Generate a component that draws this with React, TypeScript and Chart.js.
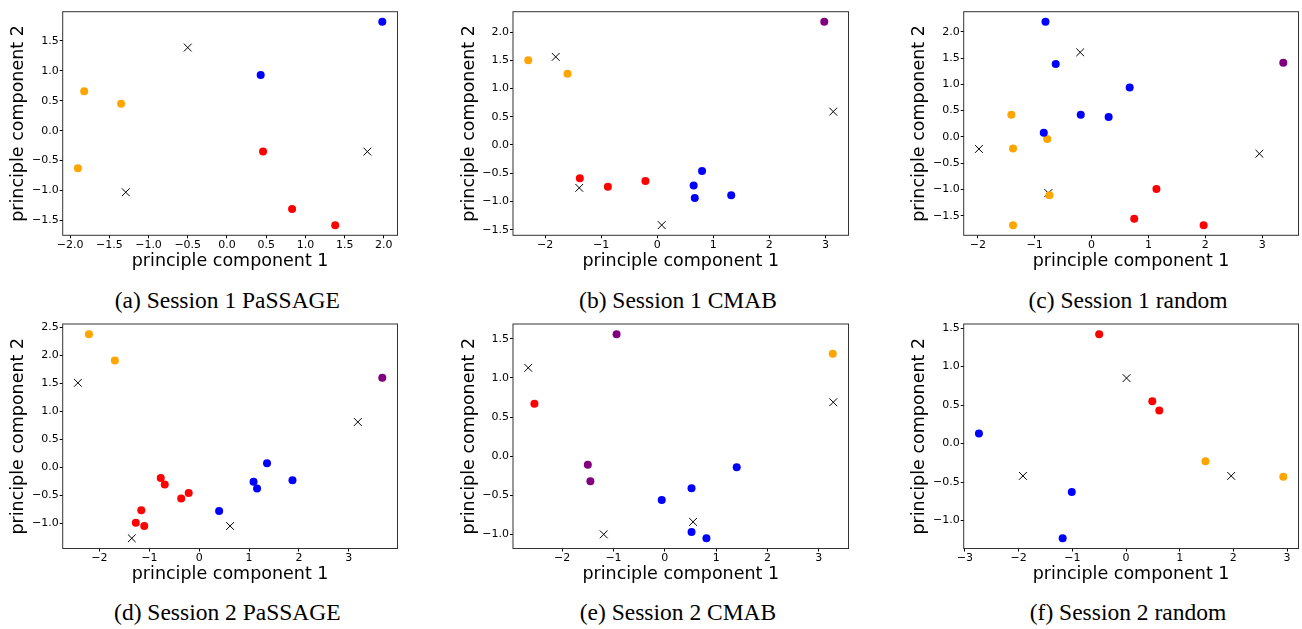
import React, { useEffect, useRef } from "react";
import { Chart, registerables } from "chart.js";

Chart.register(...registerables);

type P = [number, number];

// (a) Session 1 PaSSAGE
const aBlue: P[] = [[1.98, 1.82], [0.43, 0.93]];
const aRed: P[] = [[0.46, -0.35], [0.83, -1.31], [1.38, -1.58]];
const aOrange: P[] = [[-1.82, 0.66], [-1.35, 0.45], [-1.9, -0.63]];
const aPurple: P[] = [];
const aCenters: P[] = [[-0.5, 1.39], [-1.29, -1.03], [1.79, -0.35]];
const aTicksX = ["−2.0", "−1.5", "−1.0", "−0.5", "0.0", "0.5", "1.0", "1.5", "2.0"];
const aTicksY = ["−1.5", "−1.0", "−0.5", "0.0", "0.5", "1.0", "1.5"];

// (b) Session 1 CMAB
const bBlue: P[] = [[0.8, -0.46], [0.65, -0.72], [0.67, -0.94], [1.32, -0.89]];
const bRed: P[] = [[-1.38, -0.59], [-0.88, -0.74], [-0.21, -0.64]];
const bOrange: P[] = [[-2.3, 1.5], [-1.6, 1.26]];
const bPurple: P[] = [[2.98, 2.18]];
const bCenters: P[] = [[-1.81, 1.56], [3.14, 0.59], [-1.39, -0.76], [0.08, -1.42]];
const bTicksX = ["−2", "−1", "0", "1", "2", "3"];
const bTicksY = ["−1.5", "−1.0", "−0.5", "0.0", "0.5", "1.0", "1.5", "2.0"];

// (c) Session 1 random
const cBlue: P[] = [[-0.81, 2.19], [-0.63, 1.39], [0.67, 0.94], [-0.19, 0.42], [0.3, 0.38], [-0.84, 0.08]];
const cRed: P[] = [[1.14, -0.99], [0.75, -1.56], [1.97, -1.68]];
const cOrange: P[] = [[-1.41, 0.42], [-1.38, -0.22], [-0.78, -0.04], [-0.74, -1.11], [-1.38, -1.68]];
const cPurple: P[] = [[3.37, 1.41]];
const cCenters: P[] = [[-0.2, 1.61], [-1.98, -0.23], [2.95, -0.32], [-0.76, -1.07]];
const cTicksX = ["−2", "−1", "0", "1", "2", "3"];
const cTicksY = ["−1.5", "−1.0", "−0.5", "0.0", "0.5", "1.0", "1.5", "2.0"];

// (d) Session 2 PaSSAGE
const dBlue: P[] = [[1.36, 0.07], [1.87, -0.23], [1.09, -0.26], [1.16, -0.38], [0.4, -0.78]];
const dRed: P[] = [[-0.77, -0.19], [-0.69, -0.31], [-0.21, -0.46], [-0.36, -0.56], [-1.16, -0.77], [-1.27, -0.99], [-1.1, -1.05]];
const dOrange: P[] = [[-2.21, 2.38], [-1.69, 1.91]];
const dPurple: P[] = [[3.67, 1.6]];
const dCenters: P[] = [[-2.43, 1.51], [3.18, 0.81], [0.62, -1.05], [-1.35, -1.27]];
const dTicksX = ["−2", "−1", "0", "1", "2", "3"];
const dTicksY = ["−1.0", "−0.5", "0.0", "0.5", "1.0", "1.5", "2.0", "2.5"];

// (e) Session 2 CMAB
const eBlue: P[] = [[1.4, -0.14], [0.52, -0.41], [-0.06, -0.56], [0.52, -0.97], [0.81, -1.05]];
const eRed: P[] = [[-2.54, 0.67]];
const eOrange: P[] = [[3.27, 1.31]];
const ePurple: P[] = [[-0.94, 1.56], [-1.5, -0.11], [-1.45, -0.32]];
const eCenters: P[] = [[-2.66, 1.13], [3.28, 0.69], [0.55, -0.84], [-1.19, -1.0]];
const eTicksX = ["−2", "−1", "0", "1", "2", "3"];
const eTicksY = ["−1.0", "−0.5", "0.0", "0.5", "1.0", "1.5"];

// (f) Session 2 random
const fBlue: P[] = [[-2.74, 0.13], [-1.01, -0.63], [-1.18, -1.23]];
const fRed: P[] = [[-0.5, 1.42], [0.49, 0.55], [0.62, 0.43]];
const fOrange: P[] = [[1.48, -0.23], [2.93, -0.43]];
const fPurple: P[] = [];
const fCenters: P[] = [[0.01, 0.85], [-1.92, -0.42], [1.96, -0.42]];
const fTicksX = ["−3", "−2", "−1", "0", "1", "2", "3"];
const fTicksY = ["−1.0", "−0.5", "0.0", "0.5", "1.0", "1.5"];

const captions = [
  "(a) Session 1 PaSSAGE",
  "(b) Session 1 CMAB",
  "(c) Session 1 random",
  "(d) Session 2 PaSSAGE",
  "(e) Session 2 CMAB",
  "(f) Session 2 random",
];

const panels = [
  { blue: aBlue, red: aRed, orange: aOrange, purple: aPurple, centers: aCenters, tx: aTicksX, ty: aTicksY },
  { blue: bBlue, red: bRed, orange: bOrange, purple: bPurple, centers: bCenters, tx: bTicksX, ty: bTicksY },
  { blue: cBlue, red: cRed, orange: cOrange, purple: cPurple, centers: cCenters, tx: cTicksX, ty: cTicksY },
  { blue: dBlue, red: dRed, orange: dOrange, purple: dPurple, centers: dCenters, tx: dTicksX, ty: dTicksY },
  { blue: eBlue, red: eRed, orange: eOrange, purple: ePurple, centers: eCenters, tx: eTicksX, ty: eTicksY },
  { blue: fBlue, red: fRed, orange: fOrange, purple: fPurple, centers: fCenters, tx: fTicksX, ty: fTicksY },
];

// layout (plot frame positions in page pixels)
const frames = [
  { l: 62.7, t: 11.7, r: 401, b: 235.3 },
  { l: 513, t: 11.7, r: 852, b: 235.3 },
  { l: 963.7, t: 11.7, r: 1301.3, b: 235.3 },
  { l: 62.7, t: 324, r: 401, b: 548.5 },
  { l: 513, t: 324, r: 852, b: 548.5 },
  { l: 963.7, t: 324, r: 1301.3, b: 548.5 },
];
const captionBaselines = [309, 309, 309, 621, 621, 621];

const TITLE_SIZE = 17.5;
const TICK_SIZE = 11;
const CAPTION_SIZE = 23.5;

const toXY = (arr: P[]) => arr.map(([x, y]) => ({ x, y }));
const parseTick = (s: string) => parseFloat(s.replace("−", "-"));

const framePlugin = {
  id: "frameBox",
  afterDraw(chart: any) {
    const { ctx, chartArea } = chart;
    const { left, top, right, bottom } = chartArea;
    ctx.save();
    ctx.strokeStyle = "#333";
    ctx.lineWidth = 1;
    ctx.strokeRect(left, top, right - left, bottom - top);
    ctx.restore();
  },
};

function Panel({ idx }: { idx: number }) {
  const ref = useRef<HTMLCanvasElement | null>(null);
  const p = panels[idx];
  const f = frames[idx];
  const cl = Math.floor(f.l - 60);
  const ct = Math.floor(f.t - 10);
  const cw = Math.ceil(f.r + 3) - cl;
  const ch = Math.ceil(f.b + 40) - ct;
  const yw = f.l - cl;
  const xh = ct + ch - f.b;

  useEffect(() => {
    if (!ref.current) return;
    const all = [...p.blue, ...p.red, ...p.orange, ...p.purple, ...p.centers];
    const xs = all.map((q) => q[0]);
    const ys = all.map((q) => q[1]);
    const x0 = Math.min(...xs), x1 = Math.max(...xs);
    const y0 = Math.min(...ys), y1 = Math.max(...ys);
    const mx = (x1 - x0) * 0.05, my = (y1 - y0) * 0.05;

    const circle = (data: P[], color: string) => ({
      data: toXY(data),
      pointStyle: "circle",
      pointRadius: 4,
      pointBackgroundColor: color,
      pointBorderWidth: 0,
      showLine: false,
    });

    const tickFont = { family: "DejaVu Sans", size: TICK_SIZE, lineHeight: 1 };
    const titleFont = { family: "DejaVu Sans", size: TITLE_SIZE, lineHeight: 1 };
    const grid = {
      display: true,
      drawOnChartArea: false,
      drawTicks: true,
      tickLength: 3,
      tickColor: "#000",
      tickWidth: 1,
      lineWidth: 1,
    };

    const chart = new Chart(ref.current, {
      type: "scatter",
      data: {
        datasets: [
          circle(p.blue, "blue"),
          circle(p.red, "red"),
          circle(p.orange, "orange"),
          circle(p.purple, "purple"),
          {
            data: toXY(p.centers),
            pointStyle: "crossRot",
            pointRadius: 5.5,
            pointBorderColor: "#000",
            pointBorderWidth: 1,
            showLine: false,
          },
        ] as any,
      },
      options: {
        animation: false,
        responsive: false,
        maintainAspectRatio: false,
        devicePixelRatio: 1,
        events: [],
        layout: { padding: { left: 0, top: f.t - ct, right: cl + cw - f.r, bottom: 0 } },
        plugins: { legend: { display: false }, tooltip: { enabled: false } },
        scales: {
          x: {
            type: "linear",
            bounds: "data",
            min: x0 - mx,
            max: x1 + mx,
            grid,
            border: { display: false },
            ticks: {
              font: tickFont,
              color: "#000",
              padding: 1,
              autoSkip: false,
              maxRotation: 0,
              callback: (_v: any, i: number) => p.tx[i],
            },
            afterBuildTicks: (scale: any) => {
              scale.ticks = p.tx.map((s) => ({ value: parseTick(s) }));
            },
            afterFit: (scale: any) => {
              scale.height = xh;
            },
            title: {
              display: true,
              text: "principle component 1",
              font: titleFont,
              color: "#000",
              padding: { top: 0, bottom: xh - 25.8 - TITLE_SIZE / 2 },
            },
          },
          y: {
            type: "linear",
            bounds: "data",
            min: y0 - my,
            max: y1 + my,
            grid,
            border: { display: false },
            ticks: {
              font: tickFont,
              color: "#000",
              padding: 1,
              autoSkip: false,
              callback: (_v: any, i: number) => p.ty[i],
            },
            afterBuildTicks: (scale: any) => {
              scale.ticks = p.ty.map((s) => ({ value: parseTick(s) }));
            },
            afterFit: (scale: any) => {
              scale.width = yw;
            },
            title: {
              display: true,
              text: "principle component 2",
              font: titleFont,
              color: "#000",
              padding: { top: yw - 44 - TITLE_SIZE / 2, bottom: 0 },
            },
          },
        },
      } as any,
      plugins: [framePlugin],
    });
    return () => chart.destroy();
  }, [idx]);

  return (
    <canvas
      ref={ref}
      width={cw}
      height={ch}
      style={{ position: "absolute", left: cl, top: ct, width: cw, height: ch }}
    />
  );
}

function Caption({ idx }: { idx: number }) {
  const f = frames[idx];
  const cx = (f.l + f.r) / 2 - 4.5;
  const top = captionBaselines[idx] - 0.837 * CAPTION_SIZE;
  return (
    <div
      style={{
        position: "absolute",
        left: cx - 200,
        top,
        width: 400,
        textAlign: "center",
        whiteSpace: "nowrap",
        fontFamily: "'Liberation Serif', 'Times New Roman', serif",
        fontSize: CAPTION_SIZE,
        lineHeight: `${CAPTION_SIZE}px`,
        color: "#000",
      }}
    >
      {captions[idx]}
    </div>
  );
}

export default function App() {
  return (
    <div
      style={{
        position: "absolute",
        left: 0,
        top: 0,
        width: 1302,
        height: 629,
        overflow: "hidden",
        background: "#fff",
      }}
    >
      {panels.map((_, i) => (
        <Panel key={"p" + i} idx={i} />
      ))}
      {panels.map((_, i) => (
        <Caption key={"c" + i} idx={i} />
      ))}
    </div>
  );
}
